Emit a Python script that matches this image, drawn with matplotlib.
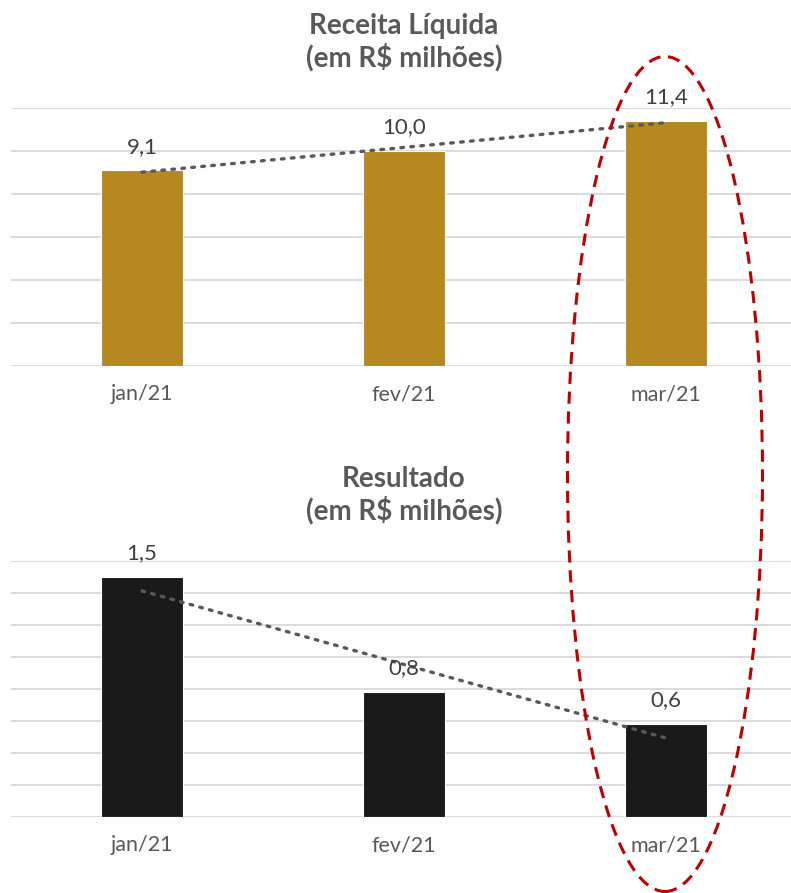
import numpy as np
import matplotlib.pyplot as plt
from matplotlib.patches import Ellipse

plt.rcParams["font.family"] = ["Lato", "DejaVu Sans"]

# data
months = ["jan/21", "fev/21", "mar/21"]
receita = [9.1, 10.0, 11.4]
resultado = [1.50, 0.78, 0.58]

gold = "#B5891F"
black = "#1A1A1A"
grid_c = "#D9D9D9"
text_c = "#595959"
label_c = "#404040"

W, H = 791, 893
fig = plt.figure(figsize=(W / 100, H / 100), dpi=100)


def px_axes(x0, x1, y_top, y_bot):
    return fig.add_axes([x0 / W, (H - y_bot) / H, (x1 - x0) / W, (y_bot - y_top) / H])


def draw_panel(ax, values, color, ymax, step):
    x = np.arange(len(values))
    ax.bar(x, values, width=0.31, color=color, edgecolor="white", linewidth=0.8, zorder=2)
    # linear trend line
    k, b = np.polyfit(x, values, 1)
    ax.plot(x, k * x + b, linestyle=(0, (0.8, 2.2)), color="#595959",
            linewidth=2.4, dash_capstyle="round", zorder=3)
    for xi, v in zip(x, values):
        ax.annotate(f"{v:.1f}".replace(".", ","), (xi, v), xytext=(0, 17),
                    textcoords="offset points", ha="center", va="center",
                    fontsize=16, color=label_c, zorder=4)
    ax.set_xlim(-0.5, len(values) - 0.5)
    ax.set_ylim(0, ymax)
    ax.set_yticks(np.arange(0, ymax + step / 2, step))
    ax.yaxis.grid(True, color=grid_c, linewidth=1.3, zorder=0)
    ax.set_axisbelow(True)
    ax.set_xticks(x)
    ax.set_xticklabels(months, fontsize=15.5, color=text_c)
    ax.tick_params(axis="x", length=0, pad=13)
    ax.tick_params(axis="y", left=False, labelleft=False)
    for s in ax.spines.values():
        s.set_visible(False)


ax1 = px_axes(11, 797, 108, 366)
draw_panel(ax1, receita, gold, 12, 2)

ax2 = px_axes(11, 797, 561, 817)
draw_panel(ax2, resultado, black, 1.6, 0.2)

fig.text(404 / W, 1 - 42 / H, "Receita Líquida\n(em R$ milhões)", ha="center", va="center",
         fontsize=20, fontweight="bold", color=text_c, linespacing=1.15)
fig.text(404 / W, 1 - 495 / H, "Resultado\n(em R$ milhões)", ha="center", va="center",
         fontsize=20, fontweight="bold", color=text_c, linespacing=1.15)

ell = Ellipse((665 / 100, (H - 474) / 100), 1.95, 8.35, transform=fig.dpi_scale_trans,
              fill=False, edgecolor="#C00000", linewidth=2.2, linestyle=(0, (4, 2.5)), zorder=10)
fig.add_artist(ell)

fig.savefig("out.png", dpi=100)
